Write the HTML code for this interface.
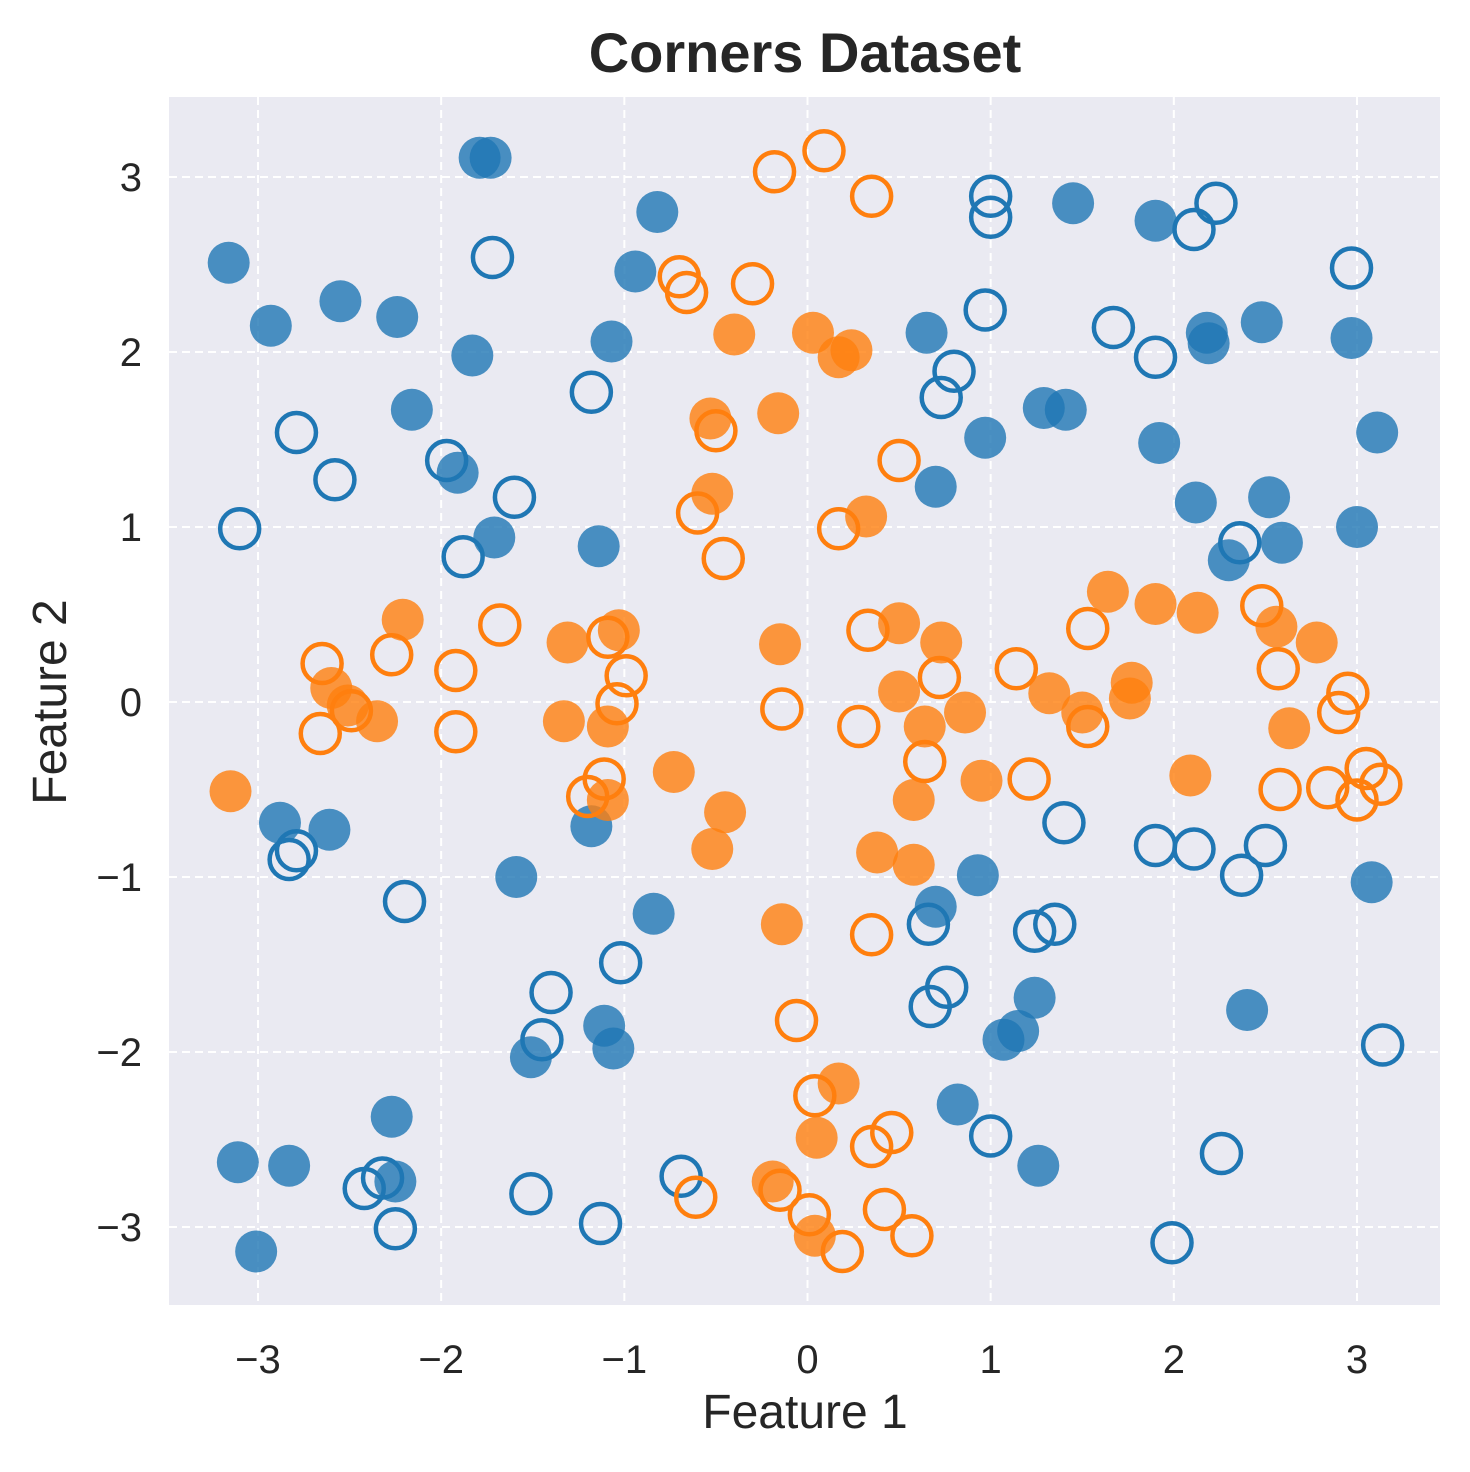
<!DOCTYPE html>
<html><head><meta charset="utf-8"><style>
html,body{margin:0;padding:0;background:#fff;}
svg text{font-family:"Liberation Sans","DejaVu Sans",sans-serif;fill:#262626;}
</style></head><body>
<svg id="chart" width="1470" height="1467" xmlns="http://www.w3.org/2000/svg">
<rect x="0" y="0" width="1470" height="1467" fill="#ffffff"/>
<rect x="169" y="97" width="1271" height="1208" fill="#eaeaf2"/>
<g id="grid"></g>
<g id="marks"></g>
<g id="ticks"></g>
<text x="805" y="72" text-anchor="middle" font-size="56" font-weight="bold">Corners Dataset</text>
<text x="805" y="1428" text-anchor="middle" font-size="48">Feature 1</text>
<text x="66" y="702" text-anchor="middle" font-size="48" transform="rotate(-90 66 702)">Feature 2</text>
</svg>
<script>
const xTicks=[-3,-2,-1,0,1,2,3];
const yTicks=[-3,-2,-1,0,1,2,3];
const tickLabels=["\u22123","\u22122","\u22121","0","1","2","3"];
const blueFilledX=[-3.16,-2.93,-2.55,-2.24,-2.16,-1.83,-1.79,-1.73,-0.94,-0.82,-1.07,-1.91,-1.71,-1.14,0.70,0.65,0.97,1.29,1.41,1.45,1.90,2.19,2.18,2.48,2.97,3.11,1.92,2.12,2.52,2.59,2.30,3.00,-2.88,-2.61,-1.59,-1.18,-0.84,-1.11,-1.06,-1.51,-2.27,-3.11,-2.83,-2.25,-3.01,0.70,0.93,1.24,1.07,1.15,0.82,1.26,2.40,3.08];
const blueFilledY=[2.51,2.15,2.29,2.20,1.67,1.98,3.11,3.11,2.46,2.80,2.06,1.31,0.94,0.89,1.23,2.11,1.51,1.68,1.67,2.85,2.75,2.05,2.11,2.17,2.08,1.54,1.48,1.14,1.17,0.91,0.81,1.00,-0.69,-0.73,-1.00,-0.71,-1.21,-1.85,-1.98,-2.03,-2.37,-2.63,-2.65,-2.74,-3.14,-1.17,-0.99,-1.69,-1.93,-1.88,-2.30,-2.65,-1.76,-1.03];
const blueHollowX=[-1.72,-1.18,-2.79,-2.58,-1.97,-1.60,-3.10,-1.88,1.00,1.00,0.97,0.80,0.73,1.67,1.90,2.11,2.23,2.97,2.36,-2.83,-2.79,-2.20,-1.02,-1.40,-1.45,-2.42,-2.32,-2.25,-1.51,-1.13,-0.69,0.66,0.76,0.67,1.24,1.35,1.40,1.90,2.11,2.50,2.37,1.00,2.26,1.99,3.14];
const blueHollowY=[2.54,1.77,1.54,1.27,1.38,1.17,0.99,0.83,2.89,2.77,2.24,1.89,1.74,2.14,1.97,2.70,2.85,2.48,0.91,-0.90,-0.85,-1.14,-1.49,-1.66,-1.93,-2.78,-2.72,-3.01,-2.81,-2.98,-2.71,-1.27,-1.63,-1.74,-1.31,-1.27,-0.69,-0.82,-0.84,-0.82,-0.99,-2.48,-2.58,-3.09,-1.96];
const orangeFilledX=[-3.15,-2.60,-2.51,-2.35,-2.21,-1.31,-1.03,-1.33,-1.09,-1.09,-0.73,-0.45,-0.52,-0.15,-0.53,-0.52,-0.40,-0.16,0.03,0.17,0.24,0.32,0.50,0.73,0.50,0.64,0.86,0.95,0.58,0.38,0.58,1.32,1.50,1.64,1.77,1.76,1.90,2.13,2.09,2.56,2.78,2.63,-0.14,0.17,0.05,-0.19,0.04];
const orangeFilledY=[-0.51,0.08,-0.02,-0.11,0.47,0.34,0.41,-0.11,-0.14,-0.56,-0.40,-0.63,-0.84,0.33,1.62,1.19,2.10,1.65,2.11,1.97,2.01,1.06,0.45,0.34,0.06,-0.14,-0.06,-0.45,-0.56,-0.86,-0.93,0.05,-0.06,0.63,0.11,0.02,0.56,0.51,-0.42,0.43,0.34,-0.15,-1.27,-2.18,-2.49,-2.74,-3.05];
const orangeHollowX=[-0.18,0.09,0.35,-0.70,-0.66,-0.30,-0.50,-0.60,-0.46,0.17,0.50,-2.65,-2.27,-1.92,-1.68,-1.92,-2.66,-2.49,-1.09,-0.99,-1.04,-1.11,-1.20,-0.14,0.33,0.28,0.72,0.64,1.14,1.21,1.53,1.53,2.48,2.57,2.95,2.90,2.58,2.84,3.05,3.00,3.13,0.35,-0.06,0.04,0.35,0.46,0.42,0.57,0.19,0.01,-0.15,-0.61];
const orangeHollowY=[3.03,3.15,2.89,2.43,2.34,2.39,1.55,1.08,0.82,0.99,1.38,0.22,0.27,0.18,0.44,-0.17,-0.18,-0.05,0.37,0.15,-0.01,-0.44,-0.54,-0.04,0.41,-0.14,0.14,-0.34,0.19,-0.44,0.42,-0.14,0.55,0.19,0.05,-0.06,-0.50,-0.49,-0.38,-0.56,-0.47,-1.33,-1.82,-2.25,-2.54,-2.46,-2.90,-3.05,-3.14,-2.93,-2.79,-2.83];

const NS="http://www.w3.org/2000/svg";
function sx(v){return 807.5+v*183.17;}
function sy(v){return 702-v*175;}
const grid=document.getElementById('grid');
const ticks=document.getElementById('ticks');
const marks=document.getElementById('marks');
xTicks.forEach((t,i)=>{
  const l=document.createElementNS(NS,'line');
  l.setAttribute('x1',sx(t));l.setAttribute('x2',sx(t));l.setAttribute('y1',97);l.setAttribute('y2',1305);
  l.setAttribute('stroke','#fff');l.setAttribute('stroke-width','2');l.setAttribute('stroke-dasharray','8,5');
  
  
  grid.appendChild(l);
  const tx=document.createElementNS(NS,'text');
  tx.setAttribute('x',sx(t));tx.setAttribute('y',1373);tx.setAttribute('text-anchor','middle');tx.setAttribute('font-size','40');
  tx.textContent=tickLabels[i];
  
  
  ticks.appendChild(tx);
});
yTicks.forEach((t,i)=>{
  const l=document.createElementNS(NS,'line');
  l.setAttribute('y1',sy(t));l.setAttribute('y2',sy(t));l.setAttribute('x1',169);l.setAttribute('x2',1440);
  l.setAttribute('stroke','#fff');l.setAttribute('stroke-width','2');l.setAttribute('stroke-dasharray','8,5');
  
  
  grid.appendChild(l);
  const tx=document.createElementNS(NS,'text');
  tx.setAttribute('x',142);tx.setAttribute('y',sy(t)+14);tx.setAttribute('text-anchor','end');tx.setAttribute('font-size','40');
  tx.textContent=tickLabels[i];
  
  
  ticks.appendChild(tx);
});
function draw(xs,ys,color,filled,name){
  xs.forEach((x,i)=>{
    const c=document.createElementNS(NS,'circle');
    c.setAttribute('cx',sx(x));c.setAttribute('cy',sy(ys[i]));
    if(filled){c.setAttribute('r',21);c.setAttribute('fill',color);c.setAttribute('fill-opacity','0.8');}
    else{c.setAttribute('r',19.5);c.setAttribute('fill','none');c.setAttribute('stroke',color);c.setAttribute('stroke-width','4.5');}
    
    
    marks.appendChild(c);
  });
}
draw(blueFilledX,blueFilledY,'#1f77b4',true,'blue-filled-point');
draw(orangeFilledX,orangeFilledY,'#ff7f0e',true,'orange-filled-point');
draw(blueHollowX,blueHollowY,'#1f77b4',false,'blue-hollow-point');
draw(orangeHollowX,orangeHollowY,'#ff7f0e',false,'orange-hollow-point');
</script>
</body></html>
